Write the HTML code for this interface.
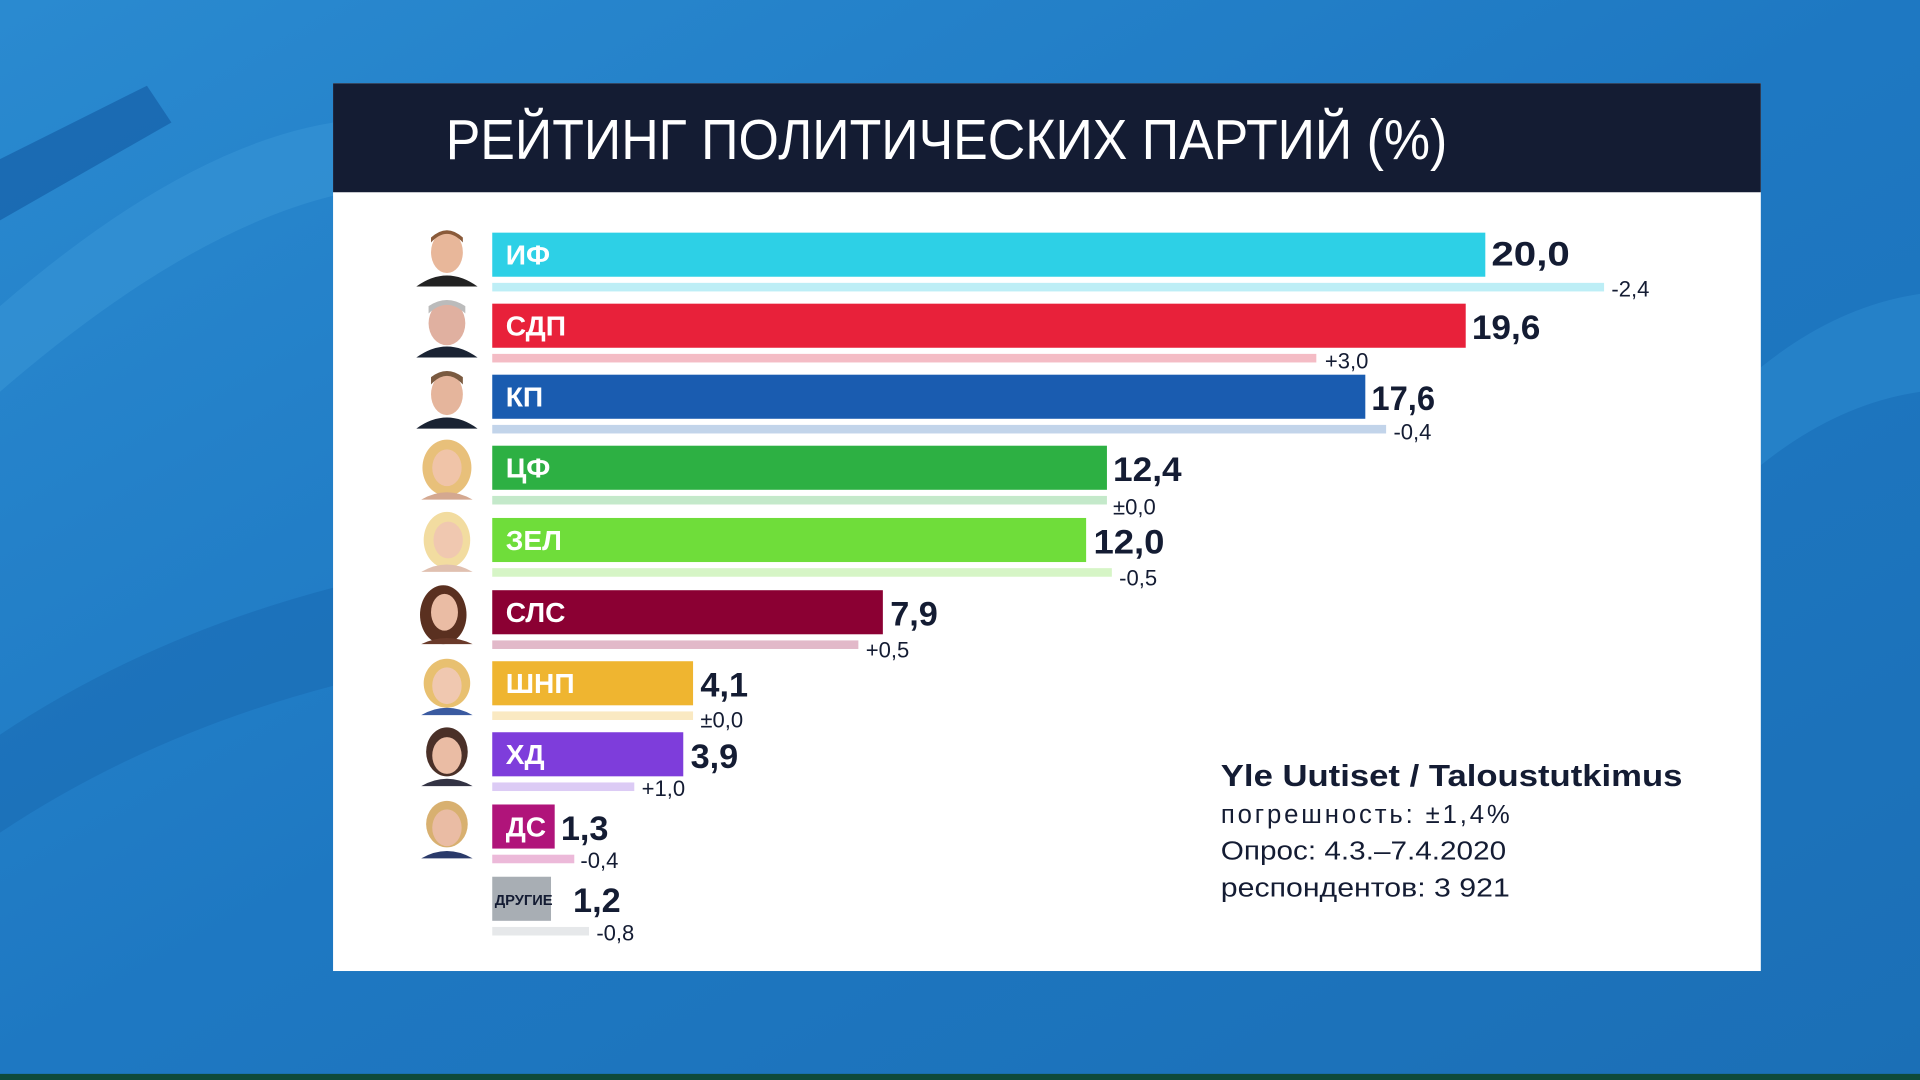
<!DOCTYPE html>
<html><head><meta charset="utf-8"><style>
html,body{margin:0;padding:0;width:1920px;height:1080px;overflow:hidden;background:#1f7cc4}
svg{display:block}
text{font-family:"Liberation Sans","DejaVu Sans",sans-serif}
</style></head><body>
<svg width="1920" height="1080" viewBox="0 0 1568 882" preserveAspectRatio="none">
<defs>
<linearGradient id="bg" x1="0" y1="0" x2="1" y2="1">
<stop offset="0" stop-color="#2a8ad0"/><stop offset="0.5" stop-color="#1e78c2"/><stop offset="1" stop-color="#1b6fb6"/>
</linearGradient>
</defs>
<rect width="1568" height="882" fill="url(#bg)"/>
<path d="M0 130 L120 70 L140 100 L0 180 Z" fill="#1560a8" opacity="0.7"/>
<path d="M0 250 Q150 120 272 100 L272 160 Q150 190 0 320 Z" fill="#3a98d8" opacity="0.5"/>
<path d="M0 600 Q120 520 272 480 L272 560 Q120 600 0 680 Z" fill="#1868b0" opacity="0.5"/>
<path d="M1438 300 Q1500 250 1568 240 L1568 320 Q1500 330 1438 380 Z" fill="#3394d6" opacity="0.4"/>
<rect x="0" y="877" width="1568" height="5" fill="#0f4a3a"/>
<rect x="272" y="68" width="1166" height="725" fill="#ffffff"/>
<rect x="272" y="68" width="1166" height="89" fill="#141c33"/>
<text x="364" y="130" font-size="46" fill="#ffffff" textLength="818" lengthAdjust="spacingAndGlyphs">РЕЙТИНГ ПОЛИТИЧЕСКИХ ПАРТИЙ  (%)</text>
<g font-weight="bold">
<g>
<rect x="402" y="190" width="811" height="36" fill="#2dd0e6"/>
<rect x="402" y="231" width="908" height="7" fill="#bdeef6"/>
<text x="413" y="216" font-size="23" fill="#fff">ИФ</text>
<text x="1218" y="217" font-size="28" fill="#141c33" textLength="64" lengthAdjust="spacingAndGlyphs">20,0</text>
<text x="1316" y="242" font-size="18" font-weight="normal" fill="#141c33">-2,4</text>
</g>
<g>
<rect x="402" y="248" width="795" height="36" fill="#e8213a"/>
<rect x="402" y="289" width="673" height="7" fill="#f4bcc5"/>
<text x="413" y="274" font-size="23" fill="#fff">СДП</text>
<text x="1202" y="277" font-size="28" fill="#141c33" textLength="56" lengthAdjust="spacingAndGlyphs">19,6</text>
<text x="1082" y="301" font-size="18" font-weight="normal" fill="#141c33">+3,0</text>
</g>
<g>
<rect x="402" y="306" width="713" height="36" fill="#1a5cb0"/>
<rect x="402" y="347" width="730" height="7" fill="#c2d4ea"/>
<text x="413" y="332" font-size="23" fill="#fff">КП</text>
<text x="1120" y="335" font-size="28" fill="#141c33" textLength="52" lengthAdjust="spacingAndGlyphs">17,6</text>
<text x="1138" y="359" font-size="18" font-weight="normal" fill="#141c33">-0,4</text>
</g>
<g>
<rect x="402" y="364" width="502" height="36" fill="#2db043"/>
<rect x="402" y="405" width="502" height="7" fill="#c4e9ca"/>
<text x="413" y="390" font-size="23" fill="#fff">ЦФ</text>
<text x="909" y="393" font-size="28" fill="#141c33" textLength="56" lengthAdjust="spacingAndGlyphs">12,4</text>
<text x="909" y="420" font-size="18" font-weight="normal" fill="#141c33">±0,0</text>
</g>
<g>
<rect x="402" y="423" width="485" height="36" fill="#6fdd3a"/>
<rect x="402" y="464" width="506" height="7" fill="#d6f5c6"/>
<text x="413" y="449" font-size="23" fill="#fff">ЗЕЛ</text>
<text x="893" y="452" font-size="28" fill="#141c33" textLength="58" lengthAdjust="spacingAndGlyphs">12,0</text>
<text x="914" y="478" font-size="18" font-weight="normal" fill="#141c33">-0,5</text>
</g>
<g>
<rect x="402" y="482" width="319" height="36" fill="#8b0033"/>
<rect x="402" y="523" width="299" height="7" fill="#e2b9c9"/>
<text x="413" y="508" font-size="23" fill="#fff">СЛС</text>
<text x="727" y="511" font-size="28" fill="#141c33">7,9</text>
<text x="707" y="537" font-size="18" font-weight="normal" fill="#141c33">+0,5</text>
</g>
<g>
<rect x="402" y="540" width="164" height="36" fill="#efb530"/>
<rect x="402" y="581" width="164" height="7" fill="#fae9c2"/>
<text x="413" y="566" font-size="23" fill="#fff">ШНП</text>
<text x="572" y="569" font-size="28" fill="#141c33">4,1</text>
<text x="572" y="594" font-size="18" font-weight="normal" fill="#141c33">±0,0</text>
</g>
<g>
<rect x="402" y="598" width="156" height="36" fill="#7e3ddb"/>
<rect x="402" y="639" width="116" height="7" fill="#dccbf5"/>
<text x="413" y="624" font-size="23" fill="#fff">ХД</text>
<text x="564" y="627" font-size="28" fill="#141c33">3,9</text>
<text x="524" y="650" font-size="18" font-weight="normal" fill="#141c33">+1,0</text>
</g>
<g>
<rect x="402" y="657" width="51" height="36" fill="#b0147a"/>
<rect x="402" y="698" width="67" height="7" fill="#ecb9d9"/>
<text x="413" y="683" font-size="23" fill="#fff">ДС</text>
<text x="458" y="686" font-size="28" fill="#141c33">1,3</text>
<text x="474" y="709" font-size="18" font-weight="normal" fill="#141c33">-0,4</text>
</g>
<g>
<rect x="402" y="716" width="48" height="36" fill="#a8aeb4"/>
<rect x="402" y="757" width="79" height="7" fill="#e6e8ea"/>
<text x="404" y="739" font-size="12" fill="#141c33">ДРУГИЕ</text>
<text x="468" y="745" font-size="28" fill="#141c33">1,2</text>
<text x="487" y="768" font-size="18" font-weight="normal" fill="#141c33">-0,8</text>
</g>
</g>
<g>
<g transform="translate(340,186)"><ellipse cx="25" cy="20" rx="13" ry="17" fill="#e8b79a"/><path d="M12 12 Q25 -2 38 12 L38 8 Q25 -4 12 8Z" fill="#8a5a3a"/><path d="M0 48 Q25 30 50 48Z" fill="#222"/></g>
<g transform="translate(340,244)"><ellipse cx="25" cy="20" rx="15" ry="18" fill="#e0b0a0"/><path d="M10 12 Q25 -2 40 12 L40 6 Q25 -4 10 6Z" fill="#bbb"/><path d="M0 48 Q25 30 50 48Z" fill="#1a2333"/></g>
<g transform="translate(340,302)"><ellipse cx="25" cy="20" rx="13" ry="17" fill="#e5b59c"/><path d="M12 12 Q25 -2 38 12 L38 6 Q25 -4 12 6Z" fill="#7a5a40"/><path d="M0 48 Q25 30 50 48Z" fill="#1a2333"/></g>
<g transform="translate(340,360)"><ellipse cx="25" cy="22" rx="20" ry="23" fill="#e8c07a"/><ellipse cx="25" cy="22" rx="12" ry="15" fill="#f0c4a8"/><path d="M4 48 Q25 36 46 48Z" fill="#d4a890"/></g>
<g transform="translate(340,419)"><ellipse cx="25" cy="22" rx="19" ry="23" fill="#f2dca0"/><ellipse cx="26" cy="22" rx="12" ry="15" fill="#f0c8b0"/><path d="M4 48 Q25 36 46 48Z" fill="#e0c0b0"/></g>
<g transform="translate(340,478)"><ellipse cx="22" cy="24" rx="19" ry="24" fill="#5a3020"/><ellipse cx="23" cy="22" rx="11" ry="15" fill="#eabca4"/><path d="M4 48 Q25 38 46 48Z" fill="#6a3a2a"/></g>
<g transform="translate(340,536)"><ellipse cx="25" cy="22" rx="19" ry="20" fill="#e8c070"/><ellipse cx="25" cy="24" rx="12" ry="15" fill="#f0c8b0"/><path d="M4 48 Q25 36 46 48Z" fill="#3a5aa0"/></g>
<g transform="translate(340,594)"><ellipse cx="25" cy="20" rx="17" ry="20" fill="#4a3028"/><ellipse cx="25" cy="23" rx="12" ry="15" fill="#eabca4"/><path d="M4 48 Q25 36 46 48Z" fill="#334"/></g>
<g transform="translate(340,653)"><ellipse cx="25" cy="20" rx="17" ry="19" fill="#d8b070"/><ellipse cx="25" cy="23" rx="12" ry="15" fill="#eabca4"/><path d="M4 48 Q25 36 46 48Z" fill="#2a3a6a"/></g>
</g>
<g fill="#141c33">
<text x="997" y="642" font-size="25" font-weight="bold" textLength="377" lengthAdjust="spacingAndGlyphs">Yle Uutiset / Taloustutkimus</text>
<text x="997" y="672" font-size="21" textLength="236" lengthAdjust="spacing">погрешность:  ±1,4%</text>
<text x="997" y="702" font-size="21" textLength="233" lengthAdjust="spacingAndGlyphs">Опрос: 4.3.–7.4.2020</text>
<text x="997" y="732" font-size="21" textLength="236" lengthAdjust="spacingAndGlyphs">респондентов: 3 921</text>
</g>
</svg>
</body></html>
